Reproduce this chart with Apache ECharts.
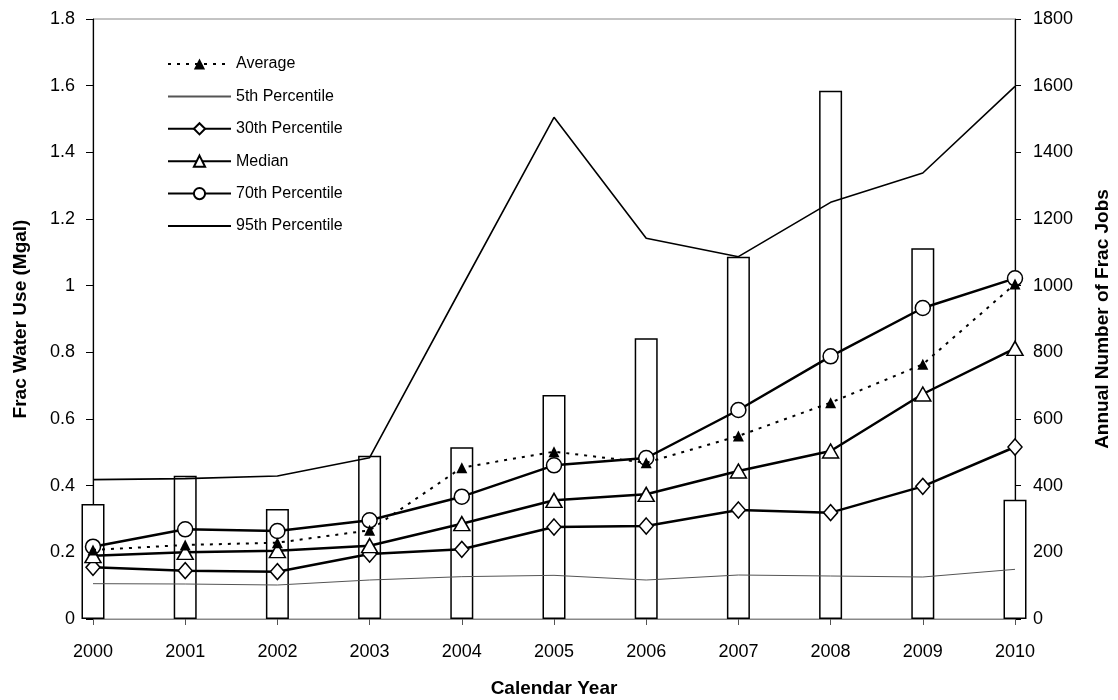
<!DOCTYPE html>
<html>
<head>
<meta charset="utf-8">
<script src="https://cdn.jsdelivr.net/npm/echarts@6/dist/echarts.min.js"></script>
<style>html,body{margin:0;padding:0;background:#fff}#c{width:1118px;height:700px}</style>
</head>
<body>
<div id="c"></div>
<script>
const years = ['2000','2001','2002','2003','2004','2005','2006','2007','2008','2009','2010'];
const fracJobs = [345, 430, 330, 490, 515, 672, 842, 1087, 1585, 1112, 358];
const average = [0.207, 0.222, 0.229, 0.266, 0.454, 0.502, 0.469, 0.549, 0.649, 0.764, 1.005];
const p5 = [0.106, 0.105, 0.102, 0.117, 0.127, 0.131, 0.117, 0.132, 0.129, 0.126, 0.149];
const p30 = [0.155, 0.145, 0.142, 0.195, 0.209, 0.276, 0.279, 0.327, 0.319, 0.398, 0.516];
const median = [0.19, 0.2, 0.205, 0.22, 0.286, 0.356, 0.374, 0.444, 0.504, 0.675, 0.812];
const p70 = [0.217, 0.269, 0.264, 0.296, 0.367, 0.461, 0.483, 0.627, 0.788, 0.933, 1.022];
const p95 = [0.418, 0.421, 0.429, 0.484, 0.996, 1.505, 1.142, 1.087, 1.25, 1.338, 1.598];

const FONT = 'Liberation Sans, Arial, sans-serif';
const chart = echarts.init(document.getElementById('c'), null, {renderer: 'canvas'});

const thick = (name, data, symbol, size) => ({
  name, type: 'line', data, yAxisIndex: 0, z: 5,
  symbol, symbolSize: size, showSymbol: true,
  lineStyle: {color: '#000', width: 2.5},
  itemStyle: {color: '#fff', borderColor: '#000', borderWidth: 1.5},
  emphasis: {disabled: true}, animation: false
});

const noMarker = {color: 'rgba(0,0,0,0)', borderColor: 'rgba(0,0,0,0)', borderWidth: 0, opacity: 0};

chart.setOption({
  animation: false,
  backgroundColor: '#fff',
  textStyle: {fontFamily: FONT, color: '#000'},
  grid: {left: 93, right: 103, top: 19, bottom: 81, containLabel: false, outerBoundsMode: 'none',
         show: true, borderColor: '#888', borderWidth: 1, backgroundColor: 'transparent'},
  legend: {
    orient: 'vertical', left: 162, top: 51,
    itemWidth: 63, itemHeight: 14, itemGap: 16.4,
    textStyle: {fontFamily: FONT, fontSize: 16, color: '#000'},
    data: [
      {name: 'Average'},
      {name: '5th Percentile', itemStyle: noMarker},
      {name: '30th Percentile'},
      {name: 'Median'},
      {name: '70th Percentile'},
      {name: '95th Percentile', itemStyle: noMarker}
    ]
  },
  xAxis: {
    type: 'category', data: years, boundaryGap: false,
    axisLine: {lineStyle: {color: '#888', width: 1}},
    axisTick: {show: true, alignWithLabel: true, length: 6, lineStyle: {color: '#555'}},
    axisLabel: {fontFamily: FONT, fontSize: 18, color: '#000', margin: 24},
    name: 'Calendar Year', nameLocation: 'middle', nameGap: 60,
    nameTextStyle: {fontFamily: FONT, fontSize: 19, fontWeight: 'bold', color: '#000'},
    splitLine: {show: false}
  },
  yAxis: [{
    type: 'value', min: 0, max: 1.8, interval: 0.2,
    axisLine: {show: true, lineStyle: {color: '#000', width: 1.2}},
    axisTick: {show: true, length: 7, lineStyle: {color: '#000'}},
    axisLabel: {fontFamily: FONT, fontSize: 18, color: '#000', margin: 18},
    splitLine: {show: false},
    name: 'Frac Water Use (Mgal)', nameLocation: 'middle', nameGap: 63, nameRotate: 90,
    nameTextStyle: {fontFamily: FONT, fontSize: 19, fontWeight: 'bold', color: '#000'}
  }, {
    type: 'value', min: 0, max: 1800, interval: 200, position: 'right',
    axisLine: {show: true, lineStyle: {color: '#000', width: 1.2}},
    axisTick: {show: true, length: 6, lineStyle: {color: '#000'}},
    axisLabel: {fontFamily: FONT, fontSize: 18, color: '#000', margin: 18, formatter: v => String(v)},
    splitLine: {show: false},
    name: 'Annual Number of Frac Jobs', nameLocation: 'middle', nameGap: 78, nameRotate: 90,
    nameTextStyle: {fontFamily: FONT, fontSize: 19, fontWeight: 'bold', color: '#000'}
  }],
  series: [
    {
      name: 'Frac Jobs', type: 'bar', data: fracJobs, yAxisIndex: 1, barWidth: 23, clip: false, z: 1,
      itemStyle: {color: '#fff', borderColor: '#000', borderWidth: 1.5},
      emphasis: {disabled: true}
    },
    {
      name: 'Average', type: 'line', data: average, yAxisIndex: 0, z: 6,
      symbol: 'triangle', symbolSize: 11,
      lineStyle: {color: '#000', width: 2, type: [3, 6]},
      itemStyle: {color: '#000', borderColor: '#000', borderWidth: 0},
      emphasis: {disabled: true}
    },
    {
      name: '5th Percentile', type: 'line', data: p5, yAxisIndex: 0, z: 4,
      symbol: 'none', showSymbol: false,
      lineStyle: {color: '#555', width: 1},
      itemStyle: {color: '#555'},
      emphasis: {disabled: true}
    },
    thick('30th Percentile', p30, 'diamond', [14, 16]),
    thick('Median', median, 'triangle', [16, 14]),
    thick('70th Percentile', p70, 'circle', 15),
    {
      name: '95th Percentile', type: 'line', data: p95, yAxisIndex: 0, z: 4,
      symbol: 'none', showSymbol: false,
      lineStyle: {color: '#000', width: 1.6},
      itemStyle: {color: '#000'},
      emphasis: {disabled: true}
    }
  ]
});
</script>
</body>
</html>
